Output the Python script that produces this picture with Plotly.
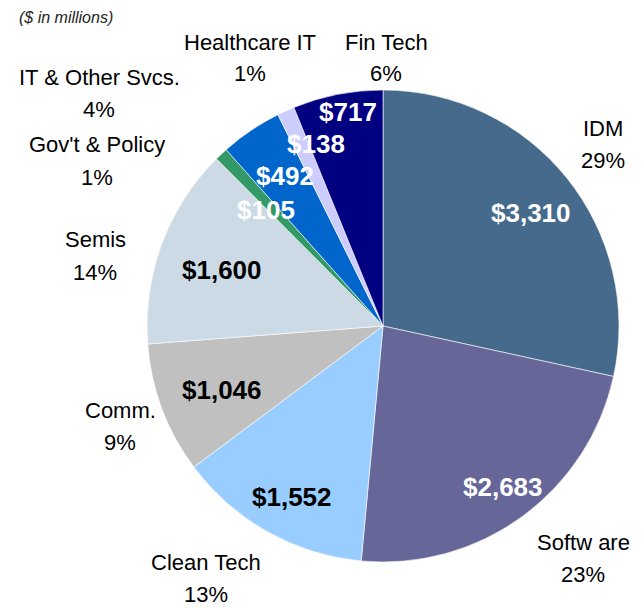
import plotly.graph_objects as go

W, H = 643, 608
OFF = 8  # page body margin offsets the figure

# ---- data ----
categories = ["IDM", "Software", "Clean Tech", "Comm.", "Semis",
              "Gov't & Policy", "IT & Other Svcs.", "Healthcare IT", "Fin Tech"]
values = [3310, 2683, 1552, 1046, 1600, 105, 492, 138, 717]
pct_labels = ["29%", "23%", "13%", "9%", "14%", "1%", "4%", "1%", "6%"]
cat_display = ["IDM", "Softw are", "Clean Tech", "Comm.", "Semis",
               "Gov't & Policy", "IT & Other Svcs.", "Healthcare IT", "Fin Tech"]

# ---- styles / layout ----
colors = ["#456A8C", "#666699", "#99CCFF", "#C0C0C0", "#CCDAE6",
          "#339966", "#0066CC", "#CCCCFF", "#000080"]
value_font_colors = ["white", "white", "black", "black", "black",
                     "white", "white", "white", "white"]
# pixel positions (center, in window pixels) for the value labels and outside labels
value_pos = [(531, 213), (503, 487), (292, 497), (222, 390), (222, 270),
             (266, 210), (285, 176), (316, 144), (348, 112)]
cat_pos = [(603, 128), (583, 542), (206, 562), (120, 410), (95, 240),
           (97, 145), (99, 77), (250, 42), (386, 42)]
line_gap = 32

cx, cy, r = 383, 326, 236

def px(x):
    return (x - OFF) / W

def py(y):
    return 1 - (y - OFF) / H

fig = go.Figure(go.Pie(
    labels=categories,
    values=values,
    sort=False,
    direction="clockwise",
    rotation=0,
    marker=dict(colors=colors, line=dict(color="white", width=0.6)),
    textinfo="none",
    hoverinfo="label+value",
    domain=dict(x=[px(cx - r), px(cx + r)], y=[py(cy + r), py(cy - r)]),
    showlegend=False,
))

FONT = "Liberation Sans, Arial, sans-serif"
annotations = []
for v, (x, y), c in zip(values, value_pos, value_font_colors):
    annotations.append(dict(
        x=px(x), y=py(y), xref="paper", yref="paper",
        text=f"<b>${v:,}</b>", showarrow=False,
        font=dict(family=FONT, size=26, color=c),
        xanchor="center", yanchor="middle",
    ))
for name, pct, (x, y) in zip(cat_display, pct_labels, cat_pos):
    annotations.append(dict(
        x=px(x), y=py(y), xref="paper", yref="paper",
        text=name, showarrow=False,
        font=dict(family=FONT, size=22, color="black"),
        xanchor="center", yanchor="middle",
    ))
    annotations.append(dict(
        x=px(x), y=py(y + line_gap), xref="paper", yref="paper",
        text=pct, showarrow=False,
        font=dict(family=FONT, size=22, color="black"),
        xanchor="center", yanchor="middle",
    ))
annotations.append(dict(
    x=px(18), y=1, xref="paper", yref="paper",
    text="<i>($ in millions)</i>", showarrow=False,
    font=dict(family=FONT, size=16, color="#222222"),
    xanchor="left", yanchor="top", borderpad=0,
))

fig.update_layout(
    width=W, height=H,
    margin=dict(l=0, r=0, t=0, b=0),
    paper_bgcolor="white",
    plot_bgcolor="white",
    annotations=annotations,
)

fig.write_html("out.html")
